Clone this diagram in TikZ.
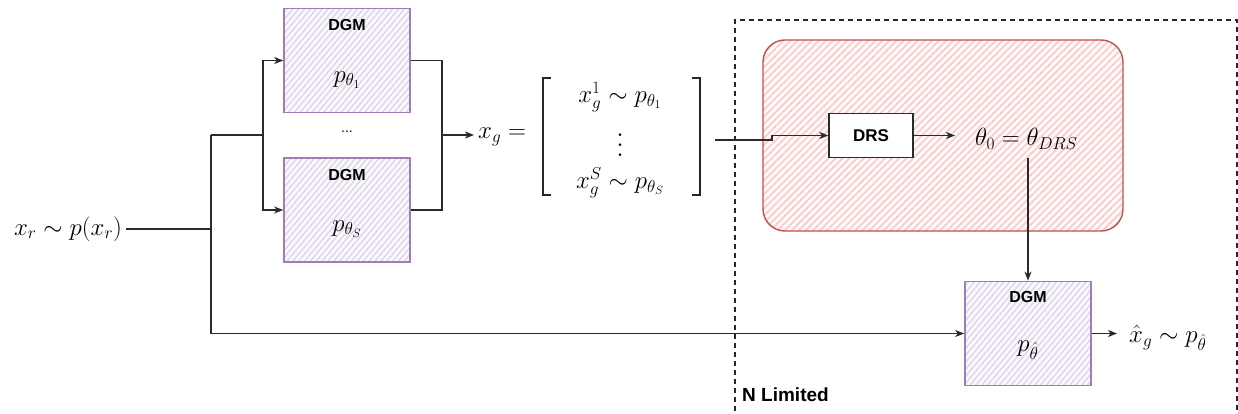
\documentclass[tikz,border=0pt]{standalone}
\usepackage{fontspec}
\usepackage{graphicx}
\newfontfamily\lab{Liberation Sans}
\usetikzlibrary{arrows.meta,patterns.meta}
\definecolor{purpS}{HTML}{A07CB8}
\definecolor{purpF}{HTML}{E0D6EA}
\definecolor{redS}{HTML}{C0504D}
\definecolor{redF}{HTML}{F8CDCB}
\definecolor{ln}{HTML}{2A2A2A}
\tikzset{
 conn/.style={draw=ln, line width=1.3pt},
 arr/.style={conn, -{Stealth[length=9pt,width=7pt,inset=2.5pt]}},
 dgmbox/.style={draw=purpS, line width=1.6pt, minimum width=126pt, minimum height=104pt, inner sep=0,
   preaction={fill=purpF!15}, pattern={Lines[angle=50,distance=4.5pt,line width=1.5pt]}, pattern color=purpF},
 drsarea/.style={draw=redS, line width=1.4pt, minimum width=360pt, minimum height=191pt, inner sep=0, rounded corners=22pt,
   preaction={fill=redF!10}, pattern={Lines[angle=45,distance=5pt,line width=1.8pt]}, pattern color=redF},
 mth/.style={font=\fontsize{25}{30}\selectfont, inner sep=0},
 sflab/.style={font=\lab\bfseries\fontsize{16}{19}\selectfont, inner sep=0},
 drsbox/.style={draw=ln, line width=1.3pt, fill=white, minimum width=84pt, minimum height=44pt, inner sep=0,
   font=\lab\bfseries\fontsize{17}{20}\selectfont},
 frame/.style={draw=black!85, line width=1.6pt, dash pattern=on 5pt off 4pt},
 brk/.style={draw=black!85, line width=2pt},
}
\begin{document}
\begin{tikzpicture}[x=1pt,y=-1pt]
\useasboundingbox (0,0) rectangle (1238,414);
% dashed frame
\draw[frame] (735,420) -- (735,20) -- (1237,20) -- (1237,420);
% red area
\node[drsarea] (area) at (943,135.5) {};
% DGM boxes
\node[dgmbox] (dgm1) at (347,60.5) {};
\node[sflab] (dgm1t) at (347,25) {DGM};
\node[mth] (dgm1m) at (347,80) {$p_{\theta_1}$};
\node[font=\lab\fontsize{14}{16}\selectfont, inner sep=0] (dots) at (347,132) {...};
\node[dgmbox] (dgm2) at (347,210) {};
\node[sflab] (dgm2t) at (347,175) {DGM};
\node[mth] (dgm2m) at (347,229) {$p_{\theta_S}$};
\node[dgmbox] (dgm3) at (1028,333.5) {};
\node[sflab] (dgm3t) at (1028,297) {DGM};
\node[mth] (dgm3m) at (1028,350) {$p_{\hat\theta}$};
% input
\node[mth] (xr) at (68,229) {$x_r\sim p(x_r)$};
% x_g
\node[mth, anchor=west] (xg) at (478,137) {$x_g=$};
\node[mth] (r1) at (620,97) {$x_g^1\sim p_{\theta_1}$};
\node[inner sep=0] (r2) at (620,138) {\scalebox{2.5}{$\vdots$}};
\node[mth] (r3) at (620,183) {$x_g^S\sim p_{\theta_S}$};
\draw[brk] (551,78) -- (543,78) -- (543,195) -- (551,195);
\draw[brk] (692,78) -- (700,78) -- (700,195) -- (692,195);
% DRS
\node[drsbox] (drs) at (871,135.5) {DRS};
\node[mth, anchor=west] (theta) at (975,139) {$\theta_0=\theta_{DRS}$};
% output
\node[mth, anchor=west] (xhat) at (1129,338) {$\hat{x}_g\sim p_{\hat\theta}$};
\node[font=\lab\bfseries\fontsize{19}{22}\selectfont, inner sep=0, anchor=west] (nlim) at (742,395) {N Limited};
% junctions
\coordinate (jA) at (211,135);
\coordinate (jB) at (263,135);
\coordinate (jC) at (442,135);
\coordinate (mR) at (715,140);
\coordinate (kD) at (772,140);
% connectors
\draw[conn] ([xshift=4pt]xr.east) -- (xr.east -| jA);
\draw[conn] (jA) -- (jB);
\draw[arr] (jB) |- (dgm1.west);
\draw[arr] (jB) |- (dgm2.west);
\draw[arr] (jA) |- (dgm3.west);
\draw[conn] (dgm1.east) -| (jC);
\draw[conn] (dgm2.east) -| (jC);
\draw[arr] (jC) -- ([xshift=-4pt]jC -| xg.west);
\draw[arr] (mR) -- (kD) |- (drs.west);
\draw[arr] (drs.east) -- ([xshift=-20pt]theta.west |- drs.east);
\draw[arr] ([yshift=-8pt]theta.south -| dgm3.north) -- (dgm3.north);
\draw[arr] (dgm3.east) -- ([xshift=-12pt]xhat.west |- dgm3.east);
\end{tikzpicture}
\end{document}
